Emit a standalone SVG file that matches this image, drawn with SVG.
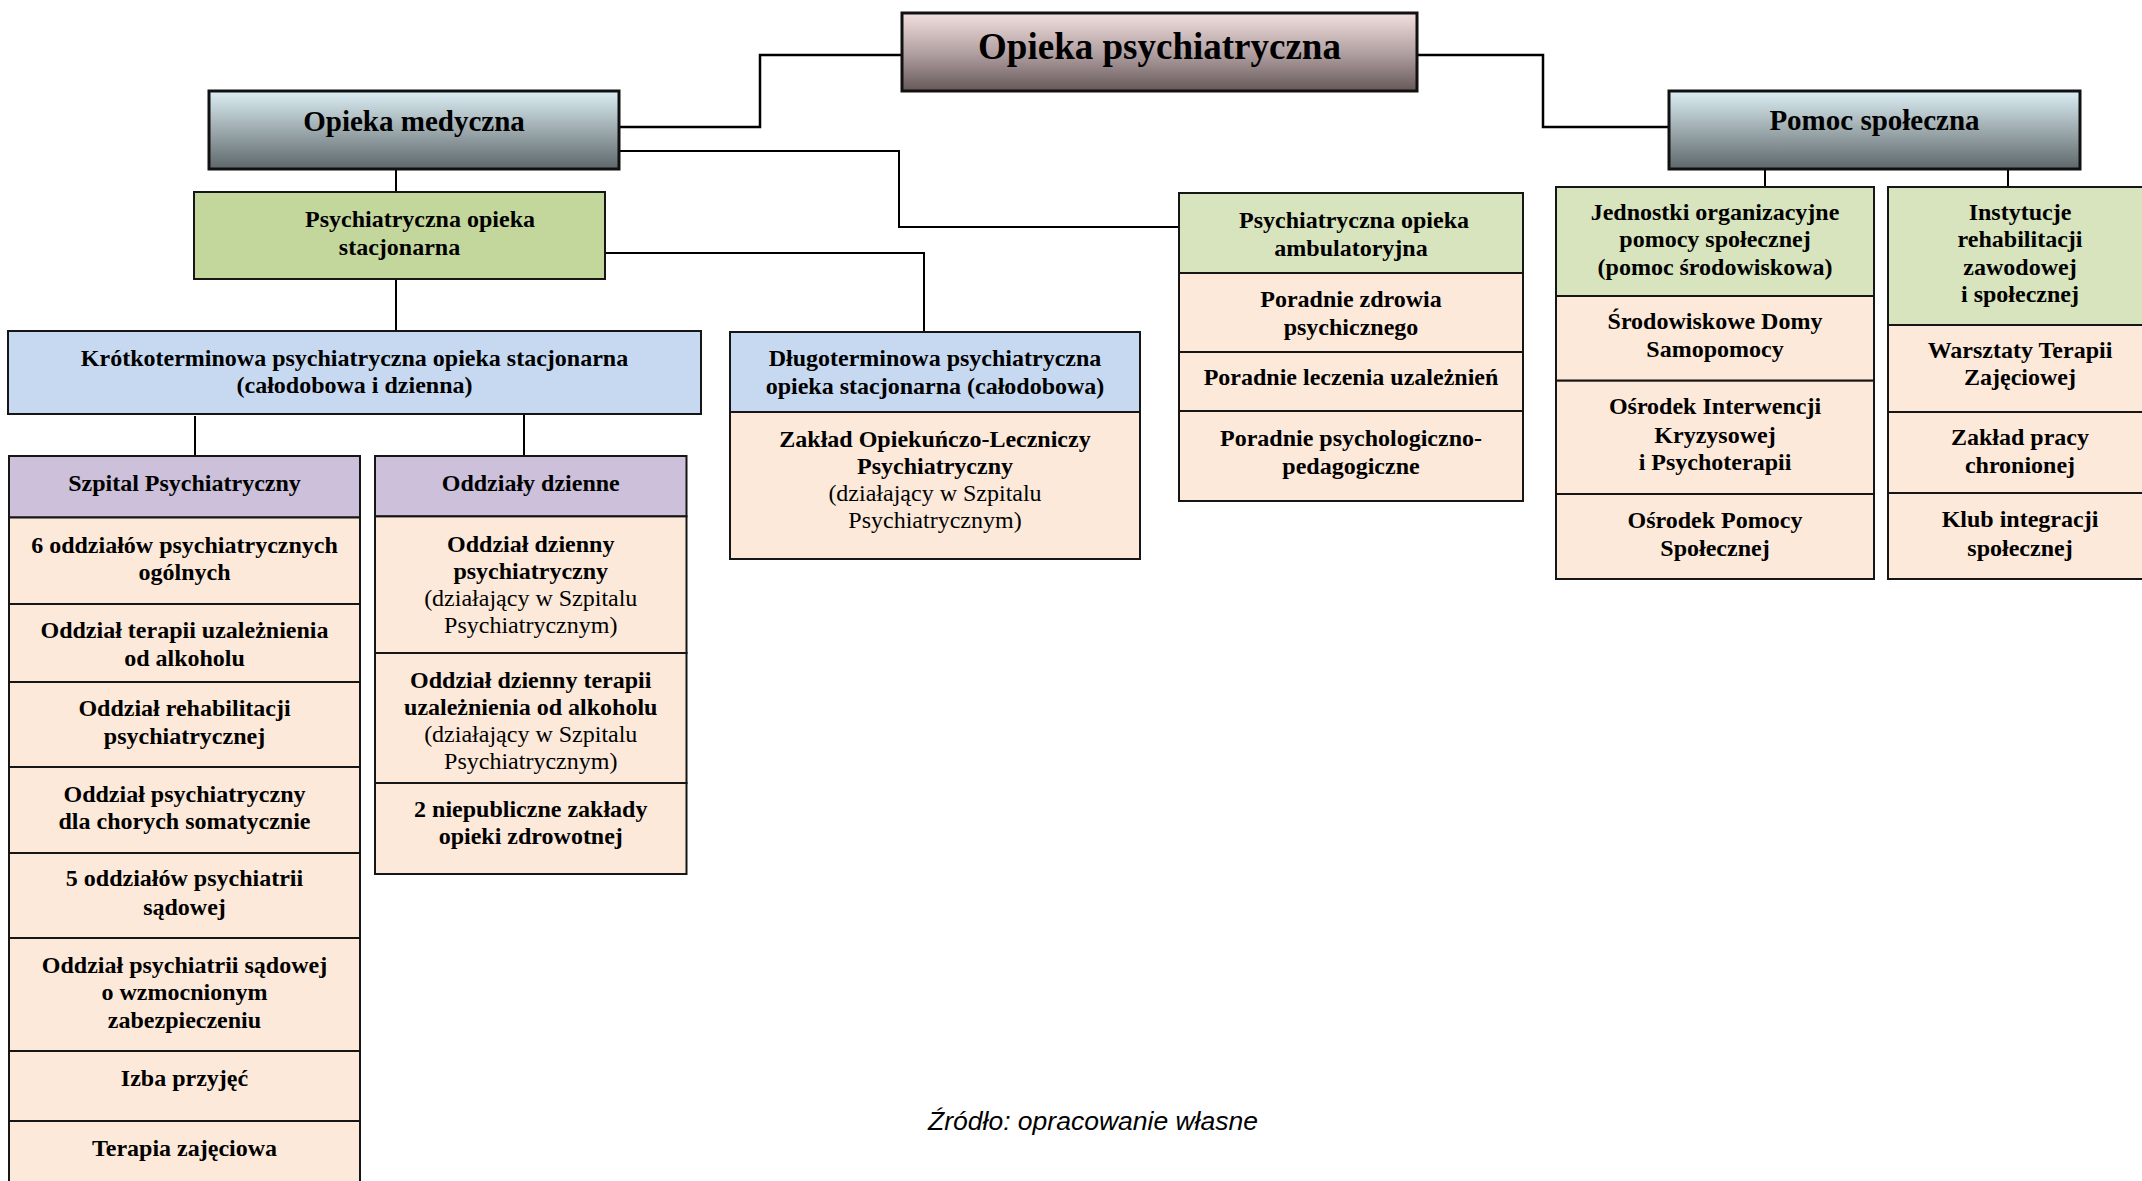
<svg xmlns="http://www.w3.org/2000/svg" width="2142" height="1181" viewBox="0 0 2142 1181">
<defs>
<linearGradient id="gRoot" x1="0" y1="0" x2="0" y2="1">
<stop offset="0" stop-color="#F3DFE0"/>
<stop offset="0.5" stop-color="#B3A2A3"/>
<stop offset="1" stop-color="#665859"/>
</linearGradient>
<linearGradient id="gMain" x1="0" y1="0" x2="0" y2="1">
<stop offset="0" stop-color="#DCEFF5"/>
<stop offset="0.5" stop-color="#9DAAAE"/>
<stop offset="1" stop-color="#5E686B"/>
</linearGradient>
</defs>
<style>
.bx{stroke:#161616;stroke-width:2}
.hb{stroke:#111;stroke-width:3}
.peach{fill:#FDE9D9}
.purple{fill:#CCC0DA}
.blue{fill:#C6D9F1}
.green{fill:#D7E4BD}
.green2{fill:#C3D69B}
.t{font-family:"Liberation Serif","Times New Roman",serif;font-size:24px;font-weight:bold;text-anchor:middle;fill:#000}
.r{font-weight:normal}
.h1{font-size:37px}
.h2{font-size:29px}
.conn{stroke:#000;stroke-width:2;fill:none}
.conn2{stroke:#000;stroke-width:2.5;fill:none}
.src{font-family:"Liberation Sans",Arial,sans-serif;font-size:26.5px;font-style:italic;text-anchor:middle;fill:#000}
</style>
<rect width="2142" height="1181" fill="#fff"/>

<g id="connectors">
<polyline class="conn2" points="902,55 760,55 760,127 619,127"/>
<polyline class="conn2" points="1417,55 1543,55 1543,127 1669,127"/>
<polyline class="conn" points="619,151 899,151 899,227 1179,227"/>
<line class="conn" x1="396" y1="169" x2="396" y2="192"/>
<polyline class="conn" points="605,253 924,253 924,332"/>
<line class="conn" x1="396" y1="279" x2="396" y2="331"/>
<line class="conn" x1="195" y1="416" x2="195" y2="456"/>
<line class="conn" x1="524" y1="414" x2="524" y2="456"/>
<line class="conn" x1="1765" y1="169" x2="1765" y2="187"/>
<line class="conn" x1="2008" y1="169" x2="2008" y2="187"/>
</g>

<g id="opieka-psychiatryczna">
<rect class="hb" x="902" y="13" width="515" height="78" fill="url(#gRoot)"/>
<text class="t h1" x="1159.5" y="59">Opieka psychiatryczna</text>
</g>

<g id="opieka-medyczna">
<rect class="hb" x="209" y="91" width="410" height="78" fill="url(#gMain)"/>
<text class="t h2" x="414" y="130.5">Opieka medyczna</text>
</g>

<g id="pomoc-spoleczna">
<rect class="hb" x="1669" y="91" width="411" height="78" fill="url(#gMain)"/>
<text class="t h2" x="1874.5" y="129.5">Pomoc społeczna</text>
</g>

<g id="stacjonarna">
<rect class="bx green2" x="194" y="192" width="411" height="87"/>
<g transform="translate(0,1.5)">
<text class="t" x="420" y="225">Psychiatryczna opieka</text>
<text class="t" x="399.5" y="253">stacjonarna</text>
</g>
</g>

<g id="ambulatoryjna">
<rect class="bx green" x="1179" y="193" width="344" height="80"/>
<rect class="bx peach" x="1179" y="273" width="344" height="79"/>
<rect class="bx peach" x="1179" y="352" width="344" height="59"/>
<rect class="bx peach" x="1179" y="411" width="344" height="90"/>
<g transform="translate(0,1.5)">
<text class="t" x="1354" y="226.5">Psychiatryczna opieka</text>
<text class="t" x="1351" y="254">ambulatoryjna</text>
<text class="t" x="1351" y="305">Poradnie zdrowia</text>
<text class="t" x="1351" y="333">psychicznego</text>
<text class="t" x="1351" y="383.5">Poradnie leczenia uzależnień</text>
<text class="t" x="1351" y="444">Poradnie psychologiczno-</text>
<text class="t" x="1351" y="472">pedagogiczne</text>
</g>
</g>

<g id="krotkoterminowa">
<rect class="bx blue" x="8" y="331" width="693" height="83"/>
<g transform="translate(0,1.5)">
<text class="t" x="354.5" y="364">Krótkoterminowa psychiatryczna opieka stacjonarna</text>
<text class="t" x="354.5" y="391">(całodobowa i dzienna)</text>
</g>
</g>

<g id="dlugoterminowa">
<rect class="bx blue" x="730" y="332" width="410" height="80"/>
<rect class="bx peach" x="730" y="412" width="410" height="147"/>
<g transform="translate(0,1.5)">
<text class="t" x="935" y="364">Długoterminowa psychiatryczna</text>
<text class="t" x="935" y="392">opieka stacjonarna (całodobowa)</text>
<text class="t" x="935" y="445">Zakład Opiekuńczo-Leczniczy</text>
<text class="t" x="935" y="472.5">Psychiatryczny</text>
<text class="t r" x="935" y="499.5">(działający w Szpitalu</text>
<text class="t r" x="935" y="526.5">Psychiatrycznym)</text>
</g>
</g>

<g id="szpital">
<rect class="bx purple" x="9" y="456" width="351" height="61.5"/>
<rect class="bx peach" x="9" y="517.5" width="351" height="86.5"/>
<rect class="bx peach" x="9" y="604" width="351" height="78"/>
<rect class="bx peach" x="9" y="682" width="351" height="85"/>
<rect class="bx peach" x="9" y="767" width="351" height="86"/>
<rect class="bx peach" x="9" y="853" width="351" height="85"/>
<rect class="bx peach" x="9" y="938" width="351" height="113"/>
<rect class="bx peach" x="9" y="1051" width="351" height="70"/>
<rect class="bx peach" x="9" y="1121" width="351" height="80"/>
<g transform="translate(0,1.5)">
<text class="t" x="184.5" y="489">Szpital Psychiatryczny</text>
<text class="t" x="184.5" y="551">6 oddziałów psychiatrycznych</text>
<text class="t" x="184.5" y="578">ogólnych</text>
<text class="t" x="184.5" y="636">Oddział terapii uzależnienia</text>
<text class="t" x="184.5" y="664">od alkoholu</text>
<text class="t" x="184.5" y="714.5">Oddział rehabilitacji</text>
<text class="t" x="184.5" y="742">psychiatrycznej</text>
<text class="t" x="184.5" y="800">Oddział psychiatryczny</text>
<text class="t" x="184.5" y="827">dla chorych somatycznie</text>
<text class="t" x="184.5" y="884.5">5 oddziałów psychiatrii</text>
<text class="t" x="184.5" y="913">sądowej</text>
<text class="t" x="184.5" y="971">Oddział psychiatrii sądowej</text>
<text class="t" x="184.5" y="998.5">o wzmocnionym</text>
<text class="t" x="184.5" y="1026">zabezpieczeniu</text>
<text class="t" x="184.5" y="1084.5">Izba przyjęć</text>
<text class="t" x="184.5" y="1154">Terapia zajęciowa</text>
</g>
</g>

<g id="oddzialy-dzienne">
<rect class="bx purple" x="375" y="456" width="311.5" height="60.4"/>
<rect class="bx peach" x="375" y="516.4" width="311.5" height="136.6"/>
<rect class="bx peach" x="375" y="653" width="311.5" height="130"/>
<rect class="bx peach" x="375" y="783" width="311.5" height="91"/>
<g transform="translate(0,1.5)">
<text class="t" x="530.75" y="489">Oddziały dzienne</text>
<text class="t" x="530.75" y="550.5">Oddział dzienny</text>
<text class="t" x="530.75" y="577">psychiatryczny</text>
<text class="t r" x="530.75" y="604.5">(działający w Szpitalu</text>
<text class="t r" x="530.75" y="631.5">Psychiatrycznym)</text>
<text class="t" x="530.75" y="686.5">Oddział dzienny terapii</text>
<text class="t" x="530.75" y="713">uzależnienia od alkoholu</text>
<text class="t r" x="530.75" y="740.5">(działający w Szpitalu</text>
<text class="t r" x="530.75" y="767.5">Psychiatrycznym)</text>
<text class="t" x="530.75" y="815">2 niepubliczne zakłady</text>
<text class="t" x="530.75" y="842">opieki zdrowotnej</text>
</g>
</g>

<g id="jednostki">
<rect class="bx green" x="1556" y="187" width="318" height="109"/>
<rect class="bx peach" x="1556" y="296" width="318" height="84.7"/>
<rect class="bx peach" x="1556" y="380.7" width="318" height="113.3"/>
<rect class="bx peach" x="1556" y="494" width="318" height="85"/>
<g transform="translate(0,1.5)">
<text class="t" x="1715" y="218.5">Jednostki organizacyjne</text>
<text class="t" x="1715" y="245.5">pomocy społecznej</text>
<text class="t" x="1715" y="273">(pomoc środowiskowa)</text>
<text class="t" x="1715" y="327">Środowiskowe Domy</text>
<text class="t" x="1715" y="355">Samopomocy</text>
<text class="t" x="1715" y="412.5">Ośrodek Interwencji</text>
<text class="t" x="1715" y="441">Kryzysowej</text>
<text class="t" x="1715" y="468">i Psychoterapii</text>
<text class="t" x="1715" y="526">Ośrodek Pomocy</text>
<text class="t" x="1715" y="554">Społecznej</text>
</g>
</g>

<g id="instytucje">
<rect class="bx green" x="1888" y="187" width="264" height="138"/>
<rect class="bx peach" x="1888" y="325" width="264" height="87"/>
<rect class="bx peach" x="1888" y="412" width="264" height="81"/>
<rect class="bx peach" x="1888" y="493" width="264" height="86"/>
<g transform="translate(0,1.5)">
<text class="t" x="2020" y="218.5">Instytucje</text>
<text class="t" x="2020" y="245.5">rehabilitacji</text>
<text class="t" x="2020" y="273">zawodowej</text>
<text class="t" x="2020" y="300.5">i społecznej</text>
<text class="t" x="2020" y="356">Warsztaty Terapii</text>
<text class="t" x="2020" y="383.5">Zajęciowej</text>
<text class="t" x="2020" y="443.5">Zakład pracy</text>
<text class="t" x="2020" y="471.5">chronionej</text>
<text class="t" x="2020" y="525.5">Klub integracji</text>
<text class="t" x="2020" y="554">społecznej</text>
</g>
</g>

<text class="src" x="1093" y="1129.5">Źródło: opracowanie własne</text>
</svg>
